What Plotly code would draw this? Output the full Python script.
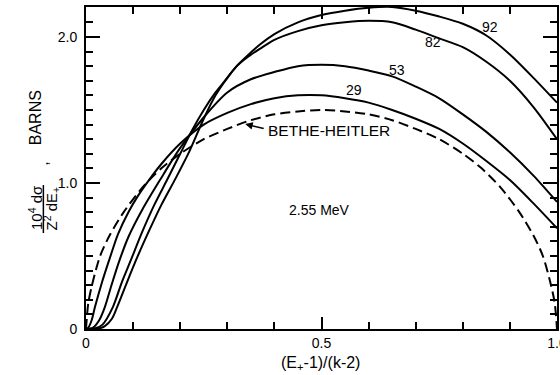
import plotly.graph_objects as go

# Positron energy fraction (E+ - 1)/(k - 2) and cross sections (barns), k = 2.55 MeV
x_bh = [0, 0.005, 0.015, 0.03, 0.05, 0.08, 0.12, 0.16, 0.2, 0.25, 0.3, 0.35, 0.4, 0.45, 0.5,
        0.55, 0.6, 0.65, 0.7, 0.75, 0.8, 0.84, 0.88, 0.92, 0.95, 0.97, 0.985, 0.995, 1.0]
y_bh = [0, 0.18, 0.33, 0.50, 0.64, 0.80, 0.97, 1.10, 1.20, 1.30, 1.37, 1.43, 1.47, 1.49, 1.50,
        1.49, 1.47, 1.43, 1.37, 1.30, 1.20, 1.10, 0.97, 0.80, 0.64, 0.50, 0.33, 0.18, 0]

x_29 = [0, 0.005, 0.012, 0.019, 0.034, 0.05, 0.068, 0.09, 0.11, 0.136, 0.16, 0.2, 0.25, 0.3,
        0.35, 0.4, 0.45, 0.5, 0.55, 0.6, 0.65, 0.7, 0.75, 0.8, 0.85, 0.9, 0.95, 1.0]
y_29 = [0, 0.01, 0.06, 0.15, 0.32, 0.48, 0.65, 0.80, 0.91, 1.03, 1.13, 1.27, 1.40, 1.48,
        1.54, 1.58, 1.60, 1.60, 1.58, 1.55, 1.50, 1.44, 1.37, 1.27, 1.15, 1.02, 0.86, 0.69]

x_53 = [0, 0.015, 0.028, 0.04, 0.055, 0.07, 0.09, 0.12, 0.157, 0.2, 0.25, 0.3, 0.35, 0.4,
        0.45, 0.5, 0.55, 0.6, 0.65, 0.7, 0.75, 0.8, 0.85, 0.9, 0.95, 1.0]
y_53 = [0, 0.01, 0.06, 0.15, 0.31, 0.46, 0.63, 0.82, 1.02, 1.24, 1.45, 1.62, 1.71, 1.76,
        1.80, 1.81, 1.80, 1.77, 1.73, 1.66, 1.58, 1.47, 1.35, 1.21, 1.05, 0.87]

x_82 = [0, 0.02, 0.035, 0.057, 0.076, 0.095, 0.12, 0.145, 0.172, 0.2, 0.225, 0.25, 0.275, 0.3,
        0.32, 0.342, 0.37, 0.4, 0.45, 0.5, 0.55, 0.6, 0.65, 0.7, 0.75, 0.8, 0.85, 0.9, 0.95, 1.0]
y_82 = [0, 0.005, 0.03, 0.15, 0.32, 0.47, 0.67, 0.85, 1.02, 1.20, 1.36, 1.50, 1.62, 1.72,
        1.80, 1.86, 1.92, 1.98, 2.04, 2.08, 2.10, 2.11, 2.10, 2.05, 1.99, 1.93, 1.83, 1.70, 1.52, 1.30]

x_92 = [0, 0.025, 0.04, 0.055, 0.066, 0.087, 0.11, 0.135, 0.16, 0.19, 0.22, 0.25, 0.275, 0.3,
        0.32, 0.342, 0.37, 0.4, 0.45, 0.5, 0.55, 0.6, 0.65, 0.7, 0.75, 0.8, 0.85, 0.9, 0.95, 1.0]
y_92 = [0, 0.002, 0.02, 0.07, 0.15, 0.32, 0.50, 0.68, 0.85, 1.03, 1.22, 1.44, 1.60, 1.72,
        1.80, 1.87, 1.95, 2.02, 2.10, 2.15, 2.18, 2.20, 2.205, 2.18, 2.14, 2.09, 2.01, 1.88, 1.72, 1.55]

z_labels = ["92", "82", "53", "29"]
z_label_x = [0.858, 0.737, 0.660, 0.570]
z_label_y = [2.068, 1.966, 1.774, 1.637]

FONT = "Liberation Sans, Arial, sans-serif"

fig = go.Figure()

fig.add_trace(go.Scatter(
    x=x_bh, y=y_bh, mode="lines",
    line=dict(color="black", width=2, dash="10px,5px", shape="spline", smoothing=0.8),
))
for xs, ys in [(x_29, y_29), (x_53, y_53), (x_82, y_82), (x_92, y_92)]:
    fig.add_trace(go.Scatter(
        x=xs, y=ys, mode="lines",
        line=dict(color="black", width=2, shape="spline", smoothing=0.8),
    ))


def ytitle_piece(x, y, text, size):
    return dict(x=x, y=y, xref="paper", yref="paper", text=text, textangle=-90,
                xanchor="center", yanchor="middle", showarrow=False,
                font=dict(family=FONT, size=size, color="black"))


annotations = []
for t, xx, yy in zip(z_labels, z_label_x, z_label_y):
    annotations.append(dict(x=xx, y=yy, xref="x", yref="y", text=t, showarrow=False,
                            font=dict(family=FONT, size=14, color="black")))

annotations += [
    dict(x=0.495, y=0.815, xref="x", yref="y", text="2.55 MeV", showarrow=False,
         font=dict(family=FONT, size=14, color="black")),
    dict(x=0.382, y=1.356, xref="x", yref="y", text="BETHE-HEITLER", showarrow=False,
         xanchor="left", font=dict(family=FONT, size=15.5, color="black")),
    dict(x=0.338, y=1.404, xref="x", yref="y", text="", showarrow=True,
         ax=20, ay=5, arrowhead=2, arrowsize=1, arrowwidth=1.5, arrowcolor="black"),
    # y-axis title: fraction, comma and unit
    ytitle_piece(-0.106, 0.376, "10<sup>4</sup> dσ", 15),
    ytitle_piece(-0.073, 0.373, "Z<sup>2</sup> dE<sub>+</sub>", 15),
    ytitle_piece(-0.094, 0.512, ",", 16),
    ytitle_piece(-0.108, 0.655, "BARNS", 16),
    # x-axis title
    dict(x=0.497, y=-0.106, xref="paper", yref="paper", text="(E<sub>+</sub>-1)/(k-2)",
         showarrow=False, xanchor="center", yanchor="middle",
         font=dict(family=FONT, size=16, color="black")),
]

fig.update_layout(
    width=560, height=375,
    margin=dict(l=86, r=3, t=7, b=46),
    paper_bgcolor="white", plot_bgcolor="white",
    showlegend=False,
    annotations=annotations,
    shapes=[dict(type="line", xref="paper", yref="paper",
                 x0=-0.0905, x1=-0.0905, y0=0.298, y1=0.447,
                 line=dict(color="black", width=1.5))],
    xaxis=dict(
        range=[0, 1.0], showgrid=False, zeroline=False, automargin=False,
        showline=True, linecolor="black", linewidth=2, mirror="allticks",
        ticks="inside", ticklen=12, tickwidth=1.5, tickcolor="black",
        tickmode="array", tickvals=[0, 0.5, 1.0], ticktext=["0", "0.5", "1.0"],
        ticklabeloverflow="allow",
        tickfont=dict(family=FONT, size=14, color="black"),
        minor=dict(tickmode="linear", tick0=0, dtick=0.1, ticks="inside",
                   ticklen=7, tickwidth=1.5, tickcolor="black", showgrid=False),
    ),
    yaxis=dict(
        range=[0, 2.205], showgrid=False, zeroline=False, automargin=False,
        showline=True, linecolor="black", linewidth=2, mirror="allticks",
        ticks="inside", ticklen=14, tickwidth=1.5, tickcolor="black",
        tickmode="array", tickvals=[0, 1.0, 2.0], ticktext=["0", "1.0", "2.0"],
        ticklabelstandoff=4,
        tickfont=dict(family=FONT, size=14, color="black"),
        minor=dict(tickmode="linear", tick0=0, dtick=0.1, ticks="inside",
                   ticklen=7, tickwidth=1.5, tickcolor="black", showgrid=False),
    ),
)

fig.write_html("out.html")
